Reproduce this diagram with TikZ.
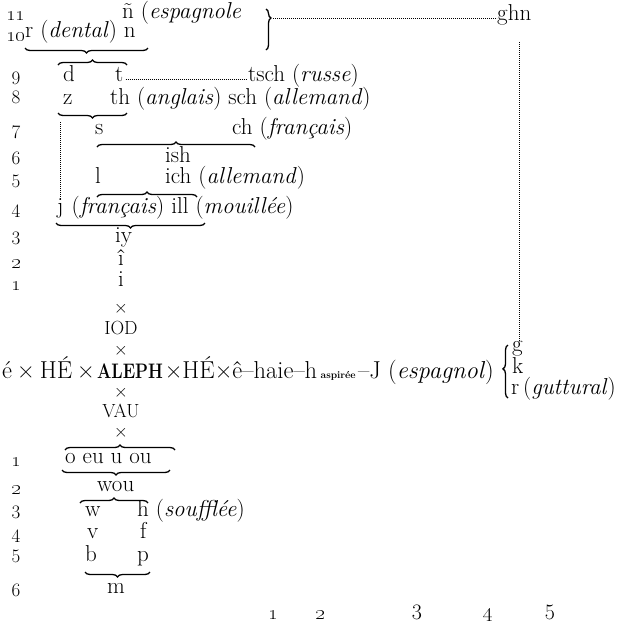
\documentclass[tikz,border=0pt]{standalone}
\usepackage{graphicx}
\usetikzlibrary{decorations.pathreplacing,calc}
\newcommand{\osn}[1]{\oldstylenums{#1}}
\begin{document}
\begin{tikzpicture}[x=1pt,y=-1pt,
 txt/.style={font=\fontsize{23}{26}\selectfont, inner sep=0pt, anchor=mid west},
 ctr/.style={font=\fontsize{23}{26}\selectfont, inner sep=0pt, anchor=mid},
 captxt/.style={font=\fontsize{19}{22}\selectfont, inner sep=0pt, anchor=center},
 num/.style={font=\fontsize{19}{21}\selectfont, inner sep=0pt, anchor=center},
 onum/.style={font=\fontsize{21}{23}\selectfont\bfseries, inner sep=0pt, anchor=center},
 bnum/.style={font=\fontsize{22}{24}\selectfont, inner sep=0pt, anchor=center},
 mline/.style={font=\fontsize{24.5}{27}\selectfont, inner sep=0pt, anchor=base west},
 brc/.style={decorate, decoration={brace, amplitude=5pt, aspect=0.5}, line width=1.3pt},
 dots/.style={line width=0.8pt, dash pattern=on 0.9pt off 1.1pt},
]
\useasboundingbox (0,0) rectangle (621,625);

% left numbers, upper part
\node[onum] (L11) at (16,16) {\osn{11}};
\node[onum] (L10) at (16,37) {\osn{10}};
\node[num] (L9) at (16,78) {9};
\node[num] (L8) at (16,97) {8};
\node[num] (L7) at (16,132) {7};
\node[num] (L6) at (16,158) {6};
\node[num] (L5) at (16,181) {5};
\node[num] (L4) at (16,211) {4};
\node[num] (L3) at (16,238) {3};
\node[onum] (L2) at (16,264) {\osn{2}};
\node[onum] (L1) at (16,286) {\osn{1}};
% left numbers, lower part
\node[onum] (B1) at (16,462) {\osn{1}};
\node[onum] (B2) at (16,490) {\osn{2}};
\node[num] (B3) at (16,512) {3};
\node[num] (B4) at (16,536) {4};
\node[num] (B5) at (16,556) {5};
\node[num] (B6) at (16,590) {6};

% upper rows
\node[txt] (ntilde) at (122,16) {ñ (\textit{espagnole}};
\node[txt] (rdn) at (25,35) {r (\textit{dental}) n};
\node[txt] (d) at (63,79) {d};
\node[txt] (t) at (115,79) {t};
\node[txt] (tsch) at (248,79) {tsch (\textit{russe})};
\node[txt] (z) at (63,102) {z};
\node[txt] (th) at (110,102) {th (\textit{anglais}) sch (\textit{allemand})};
\node[txt] (s) at (95,132) {s};
\node[txt] (ch) at (232,132) {ch (\textit{français})};
\node[txt] (ish) at (165,160) {ish};
\node[txt] (l) at (95,181) {l};
\node[txt] (ich) at (165,181) {ich (\textit{allemand})};
\node[txt] (j) at (57,211) {j};
\node[txt, anchor=base west] (ill) at ($(j.base east)+(7.7,0)$) {(\textit{français}) ill (\textit{mouillée})};
\node[txt] (iy) at (115,240) {iy};
\node[ctr] (ihat) at (121,263) {î};
\node[ctr] (i) at (121,284) {i};
\node[captxt] (x1) at (121,309) {×};
\node[captxt] (iod) at (121,328) {IOD};
\node[captxt] (x2) at (121,351) {×};

% main line
\node[mline] (m1) at (2,378) {é\hspace{5pt}×\hspace{5pt}HÉ\hspace{5pt}×};
\node[mline] (aleph) at ($(m1.base east)+(2,0)$) {\fontsize{21}{24}\selectfont\scalebox{0.8}[1]{\bfseries ALEPH}};
\node[mline] (m3) at ($(aleph.base east)+(1.5,0)$) {×HÉ×ê–haie–h};
\node[mline] (asp) at ($(m3.base east)+(3,0)$) {\fontsize{10}{11}\selectfont\bfseries aspirée};
\node[mline] (m5) at ($(asp.base east)+(2,0)$) {–J (\textit{espagnol})};

% right side
\node[txt] (ghn) at (497,18) {ghn};
\node[txt] (g) at (512,349) {g};
\node[txt] (k) at (512,371) {k};
\node[txt] (rg) at (511,392) {r\,(\textit{guttural})};

% lower column
\node[captxt] (x3) at (121,393) {×};
\node[captxt] (vau) at (121,411) {VAU};
\node[captxt] (x4) at (121,433) {×};
\node[txt] (oeu) at (65,461) {o eu u ou};
\node[txt] (wou) at (97,489) {wou};
\node[txt] (w) at (85,514) {w};
\node[txt] (h) at (137,514) {h (\textit{soufflée})};
\node[txt] (v) at (87,536) {v};
\node[txt] (f) at (140,536) {f};
\node[txt] (b) at (85,559) {b};
\node[txt] (p) at (137,559) {p};
\node[txt] (m) at (107,591) {m};

% bottom numbers
\node[onum] (N1) at (273,615) {\osn{1}};
\node[onum] (N2) at (320,615) {\osn{2}};
\node[bnum] (N3) at (417,612) {3};
\node[bnum] (N4) at (488,615) {\osn{4}};
\node[bnum] (N5) at (550,612) {5};

% braces
\draw[brc] (148,48) -- (25,48);
\draw[brc] (58,65) -- (127,65);
\draw[brc] (127,113) -- (58,113);
\draw[brc] (97,147) -- (255,147);
\draw[brc] (97,197) -- (197,197);
\draw[brc] (205,223) -- (56,223);
\draw[brc] (65,450) -- (175,450);
\draw[brc] (170,470) -- (62,470);
\draw[brc] (80,503) -- (148,503);
\draw[brc] (150,572) -- (85,572);
\draw[brc, decoration={aspect=0.22}] (266,9) -- (266,50);
\draw[brc, decoration={aspect=0.55}] (508,398) -- (508,345);

% dotted lines
\coordinate (btip) at (273,18);
\draw[dots] (btip) -- (ghn.mid west);
\draw[dots] ($(t.base east)+(2,-1.5)$) -- ($(tsch.base west)+(-2,-1.5)$);
\coordinate (vtop) at (519,42);
\draw[dots] (vtop) -- (vtop |- g.north);
\coordinate (ltop) at (60,122);
\draw[dots] (ltop) -- (ltop |- j.north);
\end{tikzpicture}
\end{document}
